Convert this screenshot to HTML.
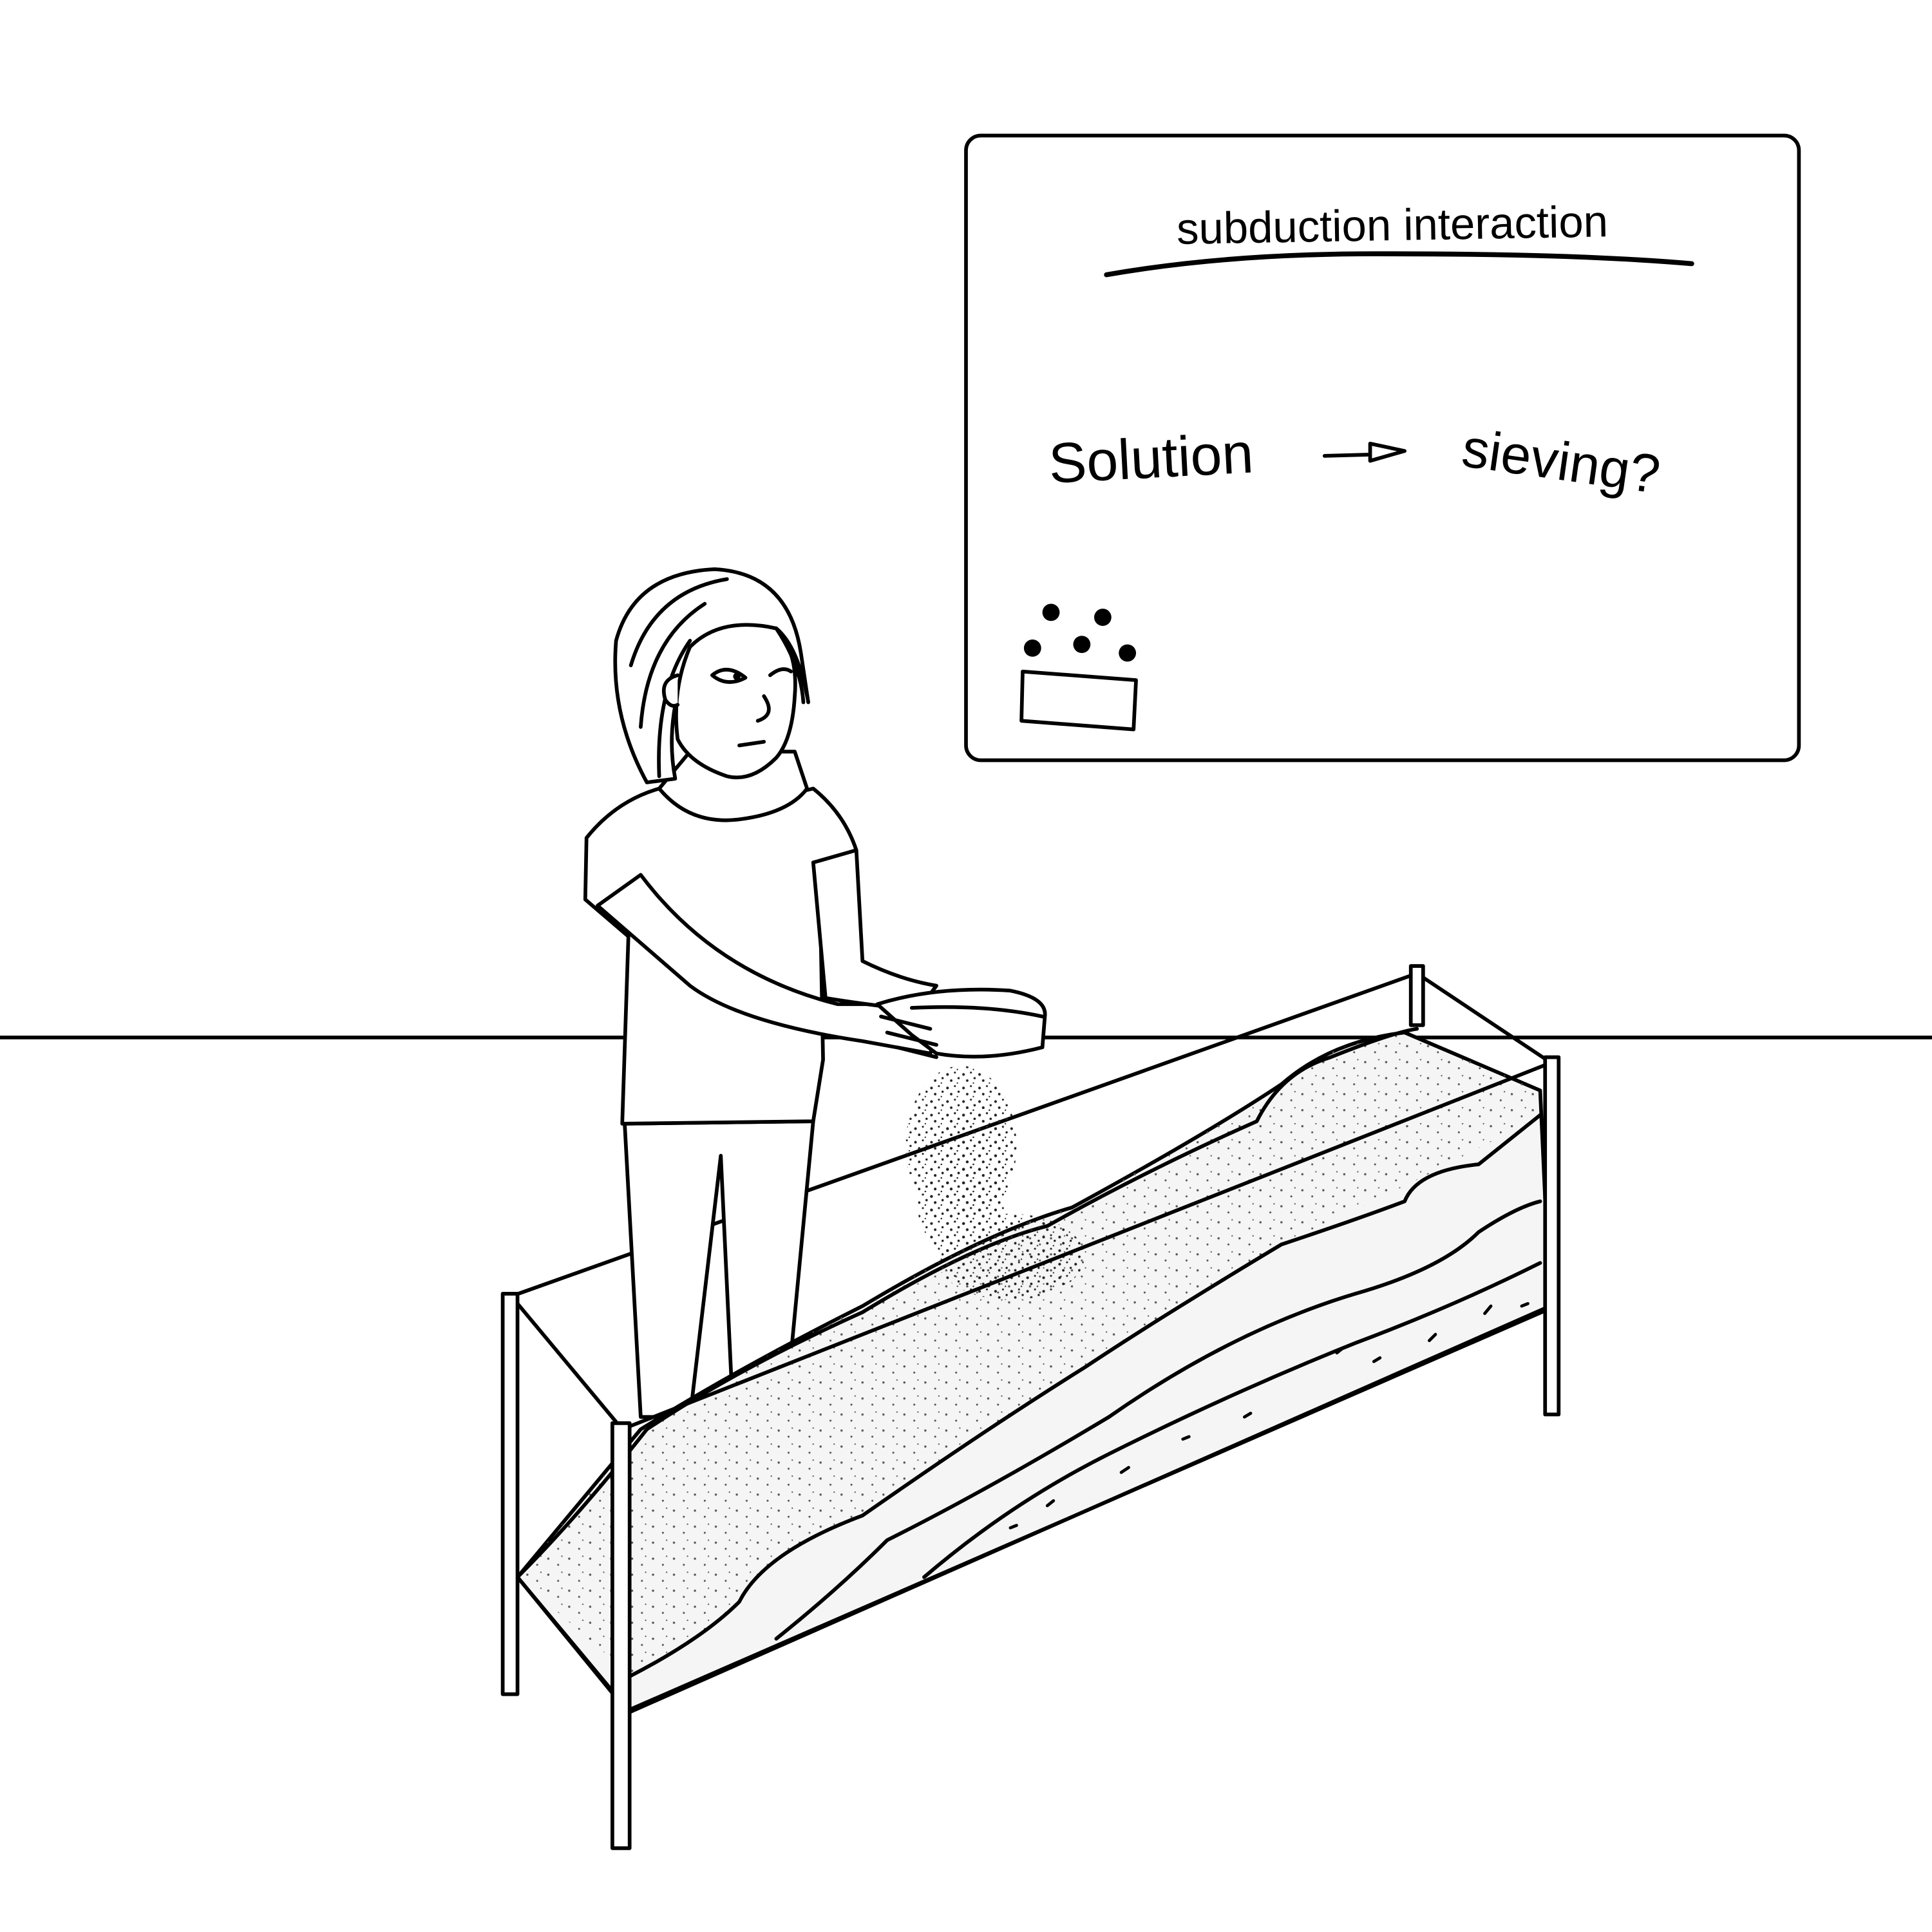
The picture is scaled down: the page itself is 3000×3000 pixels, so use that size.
<!DOCTYPE html>
<html><head><meta charset="utf-8"><style>
html,body{margin:0;padding:0;background:#fff;}
svg{display:block;}
</style></head><body>
<svg width="3000" height="3000" viewBox="0 0 1568 1568" xmlns="http://www.w3.org/2000/svg" fill="none" stroke="#000" stroke-width="3" stroke-linecap="round" stroke-linejoin="round" font-family="Liberation Sans, sans-serif">
<defs>
<pattern id="speck" width="13" height="11" patternUnits="userSpaceOnUse">
<circle cx="2" cy="3" r="1.1" fill="#222" stroke="none"/>
<circle cx="8" cy="1.5" r="0.8" fill="#222" stroke="none"/>
<circle cx="5" cy="8" r="1" fill="#222" stroke="none"/>
<circle cx="11" cy="6" r="0.9" fill="#222" stroke="none"/>
<circle cx="10" cy="10" r="0.6" fill="#222" stroke="none"/>
</pattern>
<pattern id="speck2" width="17" height="13" patternUnits="userSpaceOnUse">
<circle cx="3" cy="4" r="0.9" fill="#555" stroke="none"/>
<circle cx="11" cy="9" r="0.8" fill="#555" stroke="none"/>
<circle cx="14" cy="2" r="0.6" fill="#555" stroke="none"/>
</pattern>
</defs>
<rect x="0" y="0" width="1568" height="1568" fill="#fff" stroke="none"/>
<line x1="0" y1="842" x2="1568" y2="842"/>
<g>
<rect x="784" y="110" width="676" height="507" rx="12"/>
<text x="1130" y="195" font-size="36" text-anchor="middle" fill="#000" stroke="none" transform="rotate(-1 1130 183)">subduction interaction</text>
<path d="M898 223 Q1000 205 1130 206 Q1280 206 1373 214" stroke-width="4"/>
<text x="852" y="392" font-size="46" fill="#000" stroke="none" transform="rotate(-3 852 392)">Solution</text>
<path d="M1075 370 L1110 369 M1112 360 L1140 366 L1112 374 Z"/>
<text x="1185" y="378" font-size="44" fill="#000" stroke="none" transform="rotate(8 1185 378)">sieving?</text>
<g fill="#000" stroke="none">
<circle cx="853" cy="497" r="7"/><circle cx="895" cy="501" r="7"/><circle cx="838" cy="526" r="7"/><circle cx="878" cy="523" r="7"/><circle cx="915" cy="530" r="7"/>
</g>
<polygon points="830,545 922,552 920,592 829,585"/>
</g>
<g>
<line x1="415" y1="1052" x2="1150" y2="790"/>
<line x1="1150" y1="790" x2="1258" y2="862"/>
<rect x="1145" y="784" width="10" height="48" fill="#fff"/>
</g>
<g fill="#fff">
<path d="M507 912 L520 1150 L560 1150 L585 938 L595 1150 L640 1120 L660 910 Z"/>
<path d="M535 640 Q500 650 476 680 L475 730 L510 760 L505 912 L660 910 L668 860 L665 700 L695 690 Q685 660 660 640 Q600 655 535 640 Z"/>
<path d="M535 640 Q560 670 600 665 Q640 660 655 640 L645 610 L560 610 Z"/>
<path d="M485 735 L520 710 Q580 790 680 815 L730 815 L760 840 L755 855 L700 845 Q600 830 560 800 Z"/>
<path d="M660 700 L695 690 L700 780 Q730 795 760 800 L745 820 Q700 815 670 810 Z"/>
<path d="M525 635 Q495 580 500 520 Q515 465 580 462 Q640 465 650 530 L656 570 Q648 525 630 510 Q580 505 555 545 Q540 590 548 632 Z"/>
<path d="M560 525 Q585 500 630 510 Q648 530 645 565 Q643 600 630 615 Q610 635 590 630 Q560 620 550 600 Q545 560 560 525 Z"/>
<path d="M512 540 Q530 480 590 470 M520 590 Q525 520 572 490 M535 630 Q532 560 560 520 M630 510 Q650 540 652 570" fill="none"/>
<path d="M550 548 Q535 552 540 568 Q545 575 550 572"/>
<path d="M578 548 Q590 538 605 550 Q590 558 578 548 Z"/>
<circle cx="598" cy="549" r="3" fill="#000" stroke="none"/>
<path d="M625 548 Q635 540 642 545"/>
<path d="M620 565 Q630 580 615 585"/>
<path d="M600 605 L620 602"/>
<path d="M712 815 Q760 800 820 804 Q850 810 848 825 L846 850 Q800 862 760 855 L740 840 Z"/>
<path d="M740 818 Q800 815 846 825"/>
<path d="M715 825 L755 835 M720 838 L760 848 M728 850 L760 858"/>
</g>
<g>
<path d="M420 1280 Q470 1220 520 1160 Q600 1110 700 1060 Q800 1000 870 980 Q980 920 1040 880 Q1080 845 1140 838 L1250 885 L1258 1060 L510 1390 Z" fill="#f5f5f5"/>
<path d="M420 1280 Q470 1220 520 1160 Q600 1110 700 1060 Q800 1000 870 980 Q980 920 1040 880 Q1080 845 1140 838 L1250 885 L1250 905 Q1150 960 1040 1010 Q900 1090 700 1230 Q620 1260 600 1300 Q560 1340 512 1360 Z" fill="url(#speck2)" stroke="none"/>
<path d="M420 1280 Q470 1230 525 1160 Q600 1110 700 1065 Q790 1010 850 995 Q930 950 1020 910 Q1040 870 1080 858 Q1130 838 1150 835"/>
<path d="M512 1360 Q570 1330 600 1300 Q620 1260 700 1230 Q800 1160 880 1110 Q940 1070 1040 1010 Q1100 990 1140 975 Q1150 950 1200 945 L1250 905"/>
<path d="M630 1330 Q680 1290 720 1250 Q800 1210 900 1150 Q1000 1080 1100 1050 Q1170 1030 1200 1000 Q1230 980 1250 975"/>
<path d="M750 1280 Q820 1220 900 1180 Q1000 1130 1100 1090 Q1180 1060 1250 1025"/>
<path d="M820 1240 L825 1238 M850 1222 L855 1218 M910 1195 L916 1191 M960 1168 L965 1166 M1010 1150 L1015 1147 M1085 1098 L1090 1094 M1115 1105 L1120 1102 M1160 1088 L1165 1083 M1205 1066 L1210 1060 M1235 1060 L1240 1058" stroke-width="2.5"/>
</g>
<g stroke="none" fill="url(#speck)">
<ellipse cx="780" cy="930" rx="45" ry="65"/>
<ellipse cx="790" cy="940" rx="30" ry="45"/>
<ellipse cx="820" cy="1020" rx="60" ry="35"/>
<ellipse cx="780" cy="980" rx="35" ry="40"/>
</g>
<g>
<line x1="415" y1="1052" x2="505" y2="1160"/>
<line x1="505" y1="1160" x2="1260" y2="862"/>
<line x1="420" y1="1280" x2="510" y2="1388"/>
<line x1="510" y1="1388" x2="1258" y2="1062"/>
<rect x="408" y="1050" width="12" height="325" fill="#fff"/>
<rect x="497" y="1155" width="14" height="345" fill="#fff"/>
<rect x="1254" y="858" width="11" height="290" fill="#fff"/>
</g>
</svg>
</body></html>
